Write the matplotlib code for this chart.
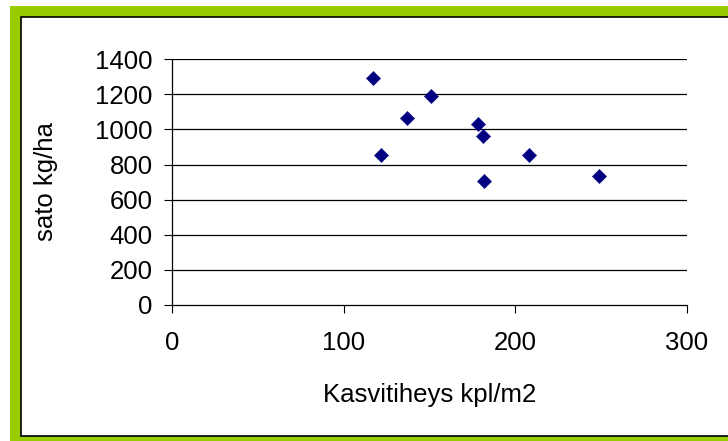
import matplotlib
matplotlib.use("Agg")
import matplotlib.pyplot as plt
from matplotlib.patches import Rectangle

# Data
density = [117, 122, 137, 151, 178, 181, 182, 208, 249]
yield_kg = [1292, 855, 1066, 1193, 1032, 964, 709, 855, 736]
x_ticks = [0, 100, 200, 300]
y_ticks = [0, 200, 400, 600, 800, 1000, 1200, 1400]
x_label = "Kasvitiheys kpl/m2"
y_label = "sato kg/ha"

W, H = 728, 441
fig = plt.figure(figsize=(W / 100, H / 100), dpi=100)
fig.patch.set_facecolor("white")

# Green border and black framed white chart area (figure pixel coords)
fig.patches.append(Rectangle((10 / W, 0), 1, (H - 6) / H, transform=fig.transFigure,
                             facecolor="#99CC00", edgecolor="none", zorder=-2))
fig.patches.append(Rectangle((21 / W, (H - 436) / H), 1.0, (436 - 17) / H,
                             transform=fig.transFigure, facecolor="white",
                             edgecolor="black", linewidth=1.2, zorder=-1))

left, right = 172 / W, 687 / W
bottom, top = (H - 305) / H, (H - 59.3) / H
ax = fig.add_axes([left, bottom, right - left, top - bottom])
ax.set_zorder(5)
ax.set_facecolor("none")

font = "Liberation Sans"
fs = 18.5

ax.scatter(density, yield_kg, marker="D", s=7.3 ** 2, color="#000080",
           edgecolors="#000080", linewidths=0.3, zorder=3)

ax.set_xlim(0, 300)
ax.set_ylim(0, 1400)
ax.set_xticks(x_ticks)
ax.set_yticks(y_ticks)
ax.set_xticklabels([str(v) for v in x_ticks], fontsize=fs, family=font)
ax.set_yticklabels([str(v) for v in y_ticks], fontsize=fs, family=font)
ax.tick_params(direction="out", length=6, width=0.8, color="black", pad=8)
ax.tick_params(axis="x", pad=13)

for v in y_ticks[1:]:
    ax.axhline(v, color="black", linewidth=0.9, zorder=1)

for s in ["top", "right"]:
    ax.spines[s].set_visible(False)
for s in ["left", "bottom"]:
    ax.spines[s].set_color("black")
    ax.spines[s].set_linewidth(0.9)

fig.text(430 / W, 1 - 395 / H, x_label, ha="center", va="center",
         fontsize=fs, family=font, zorder=6)
fig.text(46 / W, 1 - 182 / H, y_label, ha="center", va="center",
         rotation=90, fontsize=fs, family=font, zorder=6)

fig.savefig("out.png", dpi=100)
